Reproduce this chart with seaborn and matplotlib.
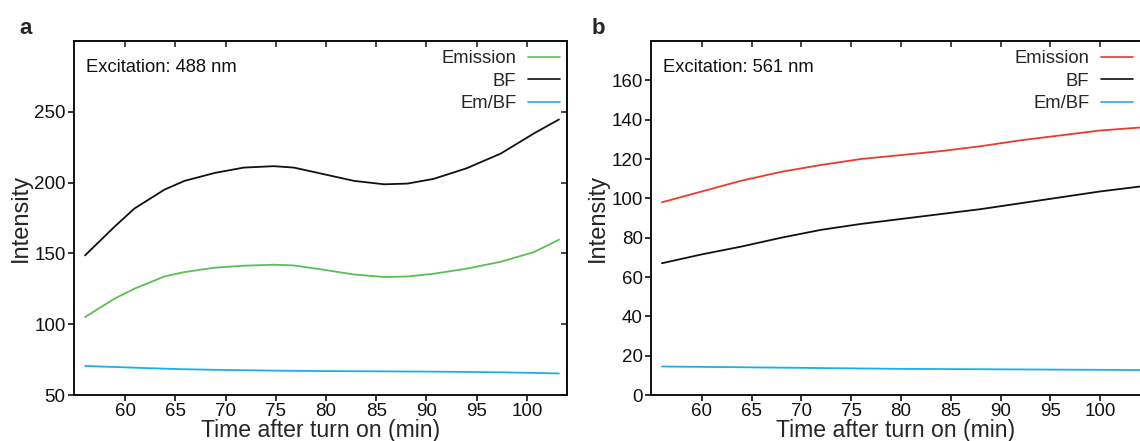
import matplotlib
matplotlib.use("Agg")
import matplotlib.pyplot as plt
import seaborn as sns
import pandas as pd

# ---------------- data ----------------
time_a = [56, 58.9, 60.9, 63.9, 65.9, 68.9, 71.8, 74.8, 76.8, 79.8, 82.8, 85.8,
          88.1, 90.7, 94.0, 97.4, 100.7, 103.2]
emission_a = [105, 117.9, 125, 133.7, 136.8, 139.9, 141.3, 142, 141.5, 138.4, 135.1,
              133.3, 133.7, 135.6, 139.2, 144.1, 150.9, 159.7]
bf_a = [148.6, 168.6, 181.6, 195, 201.2, 206.8, 210.6, 211.6, 210.6, 205.9, 201.2,
        198.8, 199.3, 202.6, 210.1, 220.5, 234.7, 244.6]
ratio_a = [70.5, 69.8, 69.3, 68.6, 68.2, 67.8, 67.5, 67.2, 67.1, 66.9, 66.8, 66.7,
           66.6, 66.5, 66.3, 66.0, 65.6, 65.2]

time_b = [56, 60, 64, 68, 72, 76, 80, 84, 88, 92, 96, 100, 104]
emission_b = [98, 103.5, 109, 113.5, 117, 120, 122, 124, 126.5, 129.5, 132, 134.5, 136]
bf_b = [67, 71.5, 75.5, 80, 84, 87, 89.5, 92, 94.5, 97.5, 100.5, 103.5, 106]
ratio_b = [14.5, 14.3, 14.1, 13.9, 13.7, 13.5, 13.3, 13.2, 13.1, 13.0, 12.9, 12.8, 12.7]

series_names = ["Emission", "BF", "Em/BF"]
xticks = [60, 65, 70, 75, 80, 85, 90, 95, 100]
yticks_a = [50, 100, 150, 200, 250]
yticks_b = [0, 20, 40, 60, 80, 100, 120, 140, 160]

GREEN = "#5cbd57"
RED = "#ec3a2e"
BLACK = "#111111"
CYAN = "#1ab0e6"

sns.set_style("ticks")
plt.rcParams["font.family"] = ["Liberation Sans", "DejaVu Sans"]
plt.rcParams["axes.linewidth"] = 1.4

fig = plt.figure(figsize=(11.4, 4.41), dpi=100)
axA = fig.add_axes([74 / 1140, 1 - 395 / 441, 493 / 1140, 354 / 441])
axB = fig.add_axes([651 / 1140, 1 - 395 / 441, 489 / 1140, 354 / 441])


def make_df(t, em, bf, r):
    return pd.DataFrame({
        "Time": list(t) * 3,
        "Intensity": list(em) + list(bf) + list(r),
        "Series": [series_names[0]] * len(t) + [series_names[1]] * len(t) + [series_names[2]] * len(t),
    })


def draw(ax, df, em_color, yticks, ylim, exc_text, right_spine=True):
    sns.lineplot(data=df, x="Time", y="Intensity", hue="Series",
                 palette=[em_color, BLACK, CYAN], hue_order=series_names,
                 linewidth=1.3, ax=ax, legend=True)
    ax.set_xlim(54.9, 104.0)
    ax.set_ylim(*ylim)
    ax.set_xticks(xticks)
    ax.set_yticks(yticks)
    ax.tick_params(axis="both", direction="out", length=4, width=1.2,
                   labelsize=13.5, pad=2, colors="#111111")
    ax.set_xlabel("Time after turn on (min)", fontsize=16.6, labelpad=-1)
    ax.set_ylabel("Intensity", fontsize=17, labelpad=2)
    for s in ["top", "right", "left", "bottom"]:
        ax.spines[s].set_visible(True)
        ax.spines[s].set_color("#111111")
    if not right_spine:
        ax.spines["right"].set_visible(False)
    # inward ticks on top (and right)
    top = ax.secondary_xaxis("top")
    top.set_xticks(xticks)
    top.tick_params(direction="in", length=4, width=1.2, labeltop=False)
    top.spines["top"].set_linewidth(1.4)
    if right_spine:
        rt = ax.secondary_yaxis("right")
        rt.set_yticks(yticks)
        rt.tick_params(direction="in", length=4, width=1.2, labelright=False)
        rt.spines["right"].set_linewidth(1.4)
    leg = ax.legend(loc="upper right", frameon=False, markerfirst=False,
                    fontsize=13.3, handlelength=1.7, handletextpad=0.65,
                    labelspacing=0.3, borderaxespad=0.1,
                    bbox_to_anchor=(1.004, 1.0))
    for line in leg.get_lines():
        line.set_linewidth(1.2)
    ax.text(0.024, 0.925, exc_text, transform=ax.transAxes, fontsize=13.2,
            ha="left", va="center", color="#111111")
    return ax


draw(axA, make_df(time_a, emission_a, bf_a, ratio_a), GREEN, yticks_a, (50, 300),
     "Excitation: 488 nm")
draw(axB, make_df(time_b, emission_b, bf_b, ratio_b), RED, yticks_b, (0, 180),
     "Excitation: 561 nm", right_spine=False)

fig.text(26 / 1140, 1 - 28 / 441, "a", fontsize=16, fontweight="bold", ha="center", va="center")
fig.text(598 / 1140, 1 - 28 / 441, "b", fontsize=16, fontweight="bold", ha="center", va="center")

fig.savefig("out.png", dpi=100)
